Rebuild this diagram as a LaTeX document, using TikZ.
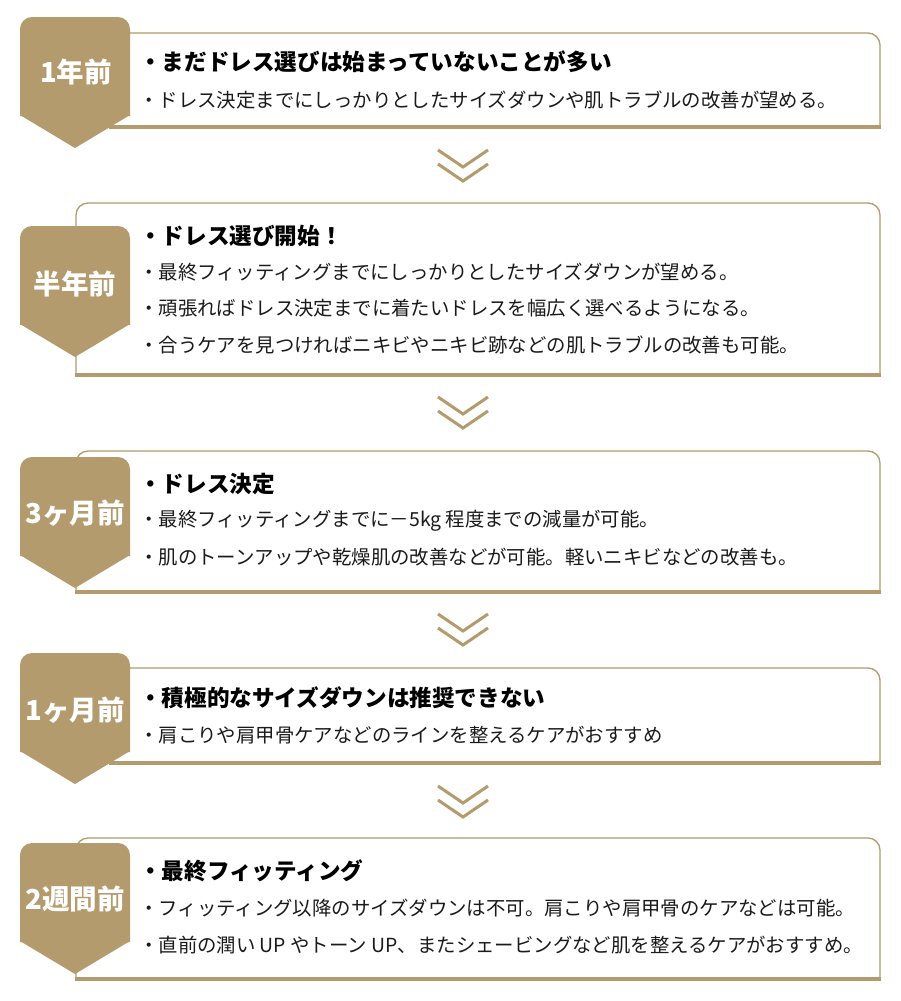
\documentclass[tikz,border=0pt]{standalone}
\usepackage{fontspec}
\setmainfont{Noto Sans CJK JP}
\definecolor{tan}{HTML}{B39B6D}
\definecolor{ink}{HTML}{1A1A1A}
\tikzset{
  boxline/.style={draw=tan, line width=1.3pt},
  baseline/.style={draw=tan, line width=4pt},
  badgefill/.style={fill=tan},
  badgetext/.style={text=white, font=\fontsize{27.5}{30}\selectfont\bfseries, inner sep=0pt},
  headtext/.style={text=black, font=\fontsize{22.6}{26}\selectfont\bfseries, anchor=west, inner sep=0pt},
  bodytext/.style={text=ink, font=\fontsize{19.4}{23}\selectfont, anchor=west, inner sep=0pt},
  chev/.style={draw=tan, line width=3pt},
}
\newcommand{\panelbox}[3]{% left, top, bottom
  \fill[white, rounded corners=12pt] (#1,#3) -- (#1,#2) -- (880,#2) -- (880,#3);
  \draw[boxline, rounded corners=12pt] (#1,#3) -- (#1,#2) -- (880,#2) -- (880,#3);
  \draw[baseline] (#1-1,#3) -- (881,#3);
}
\newcommand{\badgeshape}[1]{% top
  \fill[badgefill, rounded corners=12pt] (20,#1+99) -- (20,#1) -- (130,#1) -- (130,#1+99);
  \fill[badgefill] (20,#1+98) -- (130,#1+98) -- (75,#1+131) -- cycle;
}
\newcommand{\chevrons}[1]{% top
  \draw[chev] (438,#1) -- (463,#1+17) -- (488,#1);
  \draw[chev] (438,#1+14) -- (463,#1+31) -- (488,#1+14);
}
\begin{document}
\begin{tikzpicture}[x=1pt,y=-1pt]
\useasboundingbox (0,0) rectangle (900,1001);
\fill[white] (0,0) rectangle (900,1001);

% panels
\panelbox{110}{33}{127}
\panelbox{76}{203}{375}
\panelbox{76}{451}{592}
\panelbox{110}{668}{763}
\panelbox{76}{838}{979}

% badges
\badgeshape{17}
\badgeshape{226}
\badgeshape{457}
\badgeshape{653}
\badgeshape{843}
\node[badgetext] (b1) at (76,72) {1年前};
\node[badgetext] (b2) at (75,284) {半年前};
\node[badgetext] (b3) at (75,513) {3ヶ月前};
\node[badgetext] (b4) at (75,710) {1ヶ月前};
\node[badgetext] (b5) at (75,899) {2週間前};

% chevrons
\chevrons{150}
\chevrons{397}
\chevrons{614}
\chevrons{786}

% block 1
\node[headtext] (h1) at (139,62) {・まだドレス選びは始まっていないことが多い};
\node[bodytext] (t11) at (139,100) {・ドレス決定までにしっかりとしたサイズダウンや肌トラブルの改善が望める。};

% block 2
\node[headtext] (h2) at (139,236) {・ドレス選び開始！};
\node[bodytext] (t21) at (139,272) {・最終フィッティングまでにしっかりとしたサイズダウンが望める。};
\node[bodytext] (t22) at (139,308) {・頑張ればドレス決定までに着たいドレスを幅広く選べるようになる。};
\node[bodytext] (t23) at (139,345) {・合うケアを見つければニキビやニキビ跡などの肌トラブルの改善も可能。};

% block 3
\node[headtext] (h3) at (139,484) {・ドレス決定};
\node[bodytext] (t31) at (139,521) {・最終フィッティングまでに－5kg 程度までの減量が可能。};
\node[bodytext] (t32) at (139,557) {・肌のトーンアップや乾燥肌の改善などが可能。軽いニキビなどの改善も。};

% block 4
\node[headtext] (h4) at (139,698) {・積極的なサイズダウンは推奨できない};
\node[bodytext] (t41) at (139,735) {・肩こりや肩甲骨ケアなどのラインを整えるケアがおすすめ};

% block 5
\node[headtext] (h5) at (139,871) {・最終フィッティング};
\node[bodytext] (t51) at (139,908) {・フィッティング以降のサイズダウンは不可。肩こりや肩甲骨のケアなどは可能。};
\node[bodytext] (t52) at (139,945) {・直前の潤い UP やトーン UP、またシェービングなど肌を整えるケアがおすすめ。};
\end{tikzpicture}
\end{document}
